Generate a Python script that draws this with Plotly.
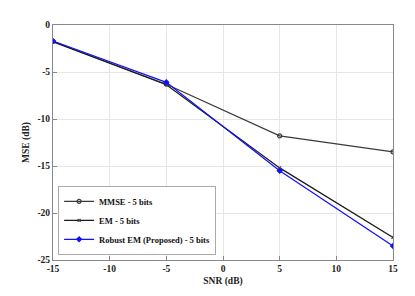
import plotly.graph_objects as go

snr = [-15, -5, 5, 15]
mmse = [-1.75, -6.3, -11.8, -13.5]
em = [-1.8, -6.35, -15.2, -22.6]
robust = [-1.7, -6.1, -15.5, -23.5]
names = ["MMSE - 5 bits", "EM - 5 bits", "Robust EM (Proposed) - 5 bits"]
xticks = [-15, -10, -5, 0, 5, 10, 15]
yticks = [0, -5, -10, -15, -20, -25]

fig = go.Figure()
fig.add_trace(go.Scatter(x=snr, y=mmse, name="<b>%s</b>" % names[0], mode="lines+markers",
                         line=dict(color="#3a3a3a", width=1.2),
                         marker=dict(symbol="circle-open", size=4, color="#3a3a3a", line=dict(width=1.2))))
fig.add_trace(go.Scatter(x=snr, y=em, name="<b>%s</b>" % names[1], mode="lines+markers",
                         line=dict(color="#1a1a1a", width=1.2),
                         marker=dict(symbol="x-thin", size=3, color="#1a1a1a", line=dict(width=1.2))))
fig.add_trace(go.Scatter(x=snr, y=robust, name="<b>%s</b>" % names[2], mode="lines+markers",
                         line=dict(color="#1010ff", width=1.2),
                         marker=dict(symbol="diamond", size=5, color="#1010ff")))

font = dict(family="Liberation Serif", size=9.5, color="#222222")
fig.update_layout(
    width=407, height=288,
    margin=dict(l=45, r=22, t=14, b=33),
    paper_bgcolor="white", plot_bgcolor="white",
    font=font,
    showlegend=True,
    legend=dict(x=0.015, y=0.022, xanchor="left", yanchor="bottom",
                bgcolor="white", bordercolor="#aaaaaa", borderwidth=1,
                font=dict(family="Liberation Serif", size=8.5, color="#111111"),
                tracegroupgap=0, itemwidth=30),
)
fig.update_xaxes(range=[-15, 15], tickvals=xticks, ticktext=["<b>%d</b>" % v for v in xticks],
                 showgrid=True, gridcolor="#e6e6e6", gridwidth=1,
                 showline=True, linecolor="#888888", linewidth=1, mirror=True,
                 ticks="inside", ticklen=4, tickcolor="#888888", zeroline=False,
                 title=dict(text="<b>SNR (dB)</b>", standoff=3, font=dict(size=9.5)))
fig.update_yaxes(range=[-25, 0], tickvals=yticks, ticktext=["<b>%d</b>" % v for v in yticks],
                 showgrid=True, gridcolor="#e6e6e6", gridwidth=1,
                 showline=True, linecolor="#888888", linewidth=1, mirror=True,
                 ticks="inside", ticklen=4, tickcolor="#888888", zeroline=False,
                 title=dict(text="<b>MSE (dB)</b>", standoff=6, font=dict(size=9.5)))

fig.write_html("out.html")
